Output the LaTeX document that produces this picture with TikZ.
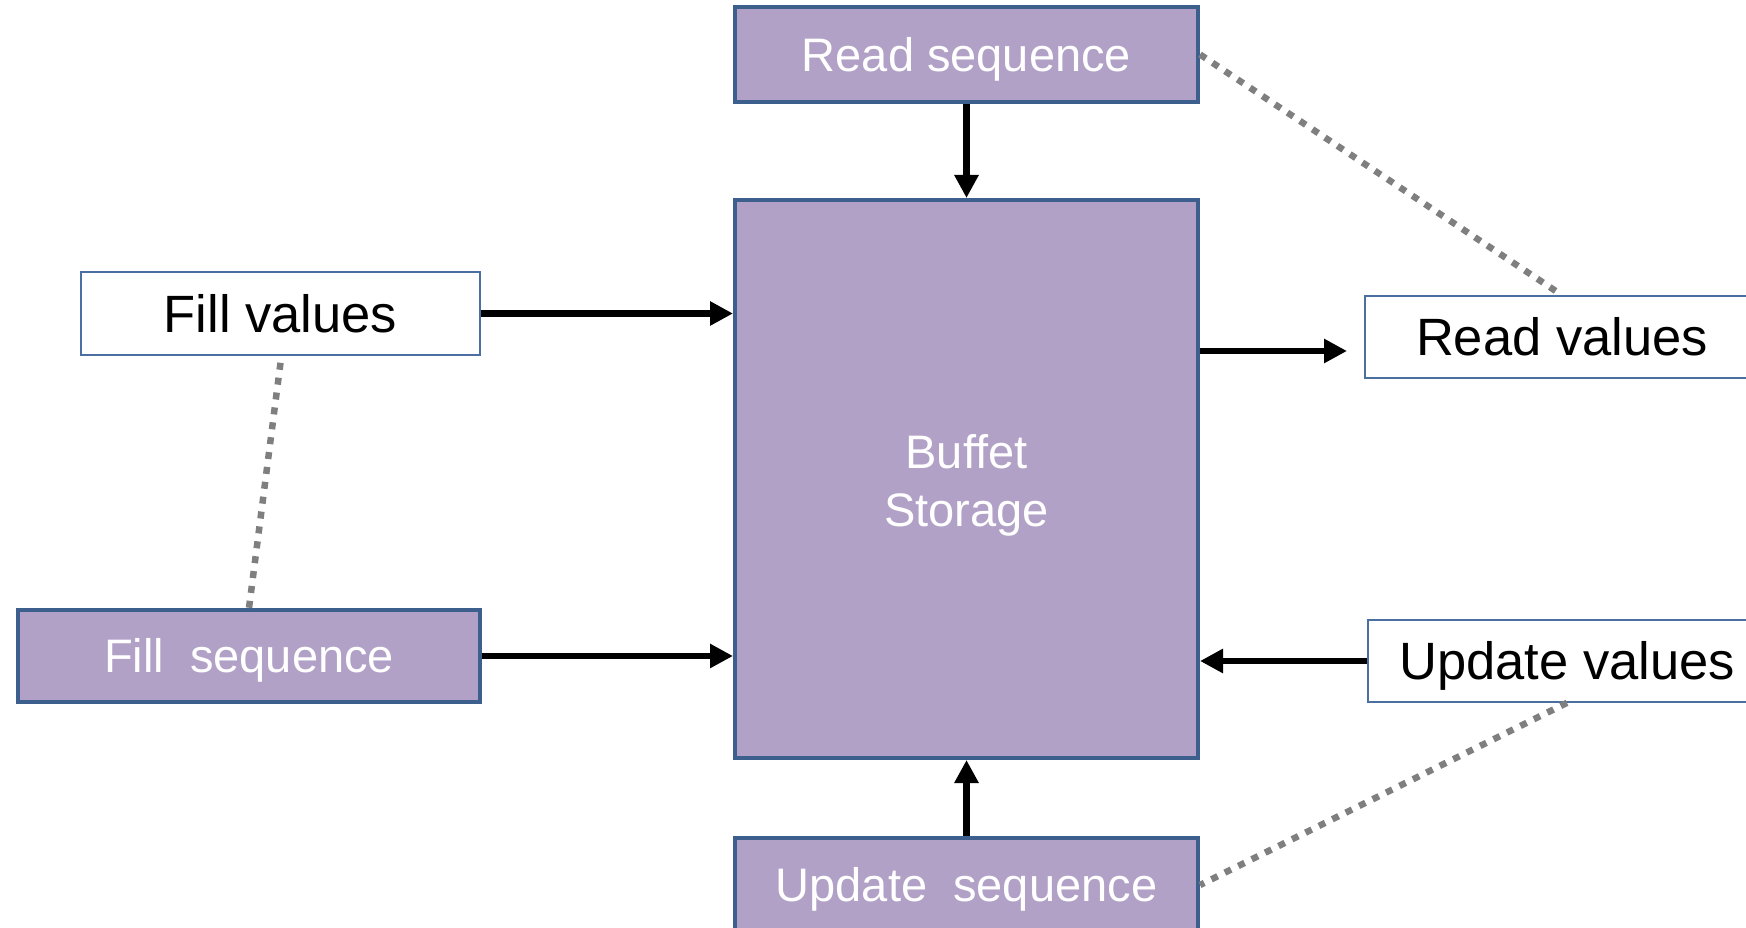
\documentclass[tikz,border=0pt]{standalone}
\usepackage{fontspec}
\setmainfont{Liberation Sans}
\usetikzlibrary{arrows.meta}

\definecolor{seqfill}{HTML}{B2A1C7}
\definecolor{seqedge}{HTML}{3C5F8E}
\definecolor{valedge}{HTML}{4A6FA0}
\definecolor{linkgray}{HTML}{7F7F7F}

\tikzset{
  seqbox/.style={draw=seqedge, line width=4pt, fill=seqfill, text=white,
    inner sep=0pt, text height=42.3pt, text depth=8.65pt,
    font=\fontsize{47}{58}\selectfont},
  valbox/.style={draw=valedge, line width=1.6pt, fill=white, text=black,
    inner sep=0pt, text height=47.25pt, text depth=9.66pt,
    font=\fontsize{52.5}{60}\selectfont},
  flow/.style={draw=black, line width=6.5pt,
    -{Triangle[length=23pt,width=23pt]}},
  link/.style={draw=linkgray, line width=6.5pt, dash pattern=on 7pt off 8pt}
}

\begin{document}
\begin{tikzpicture}[x=1pt,y=1pt]
\useasboundingbox (0,0) rectangle (1746,927);
\clip (0,0) rectangle (1746,927);

% purple sequence blocks and the storage block
\node[seqbox, minimum width=463pt, minimum height=95pt] (rs) at (966.5,872.5) {Read sequence};
\node[draw=seqedge, line width=4pt, fill=seqfill, minimum width=463pt, minimum height=558pt] (st) at (966.5,448) {};
\node[text=white, inner sep=0pt, align=center, font=\fontsize{47}{58}\selectfont] (sttext)
  at ([yshift=-6pt]st.center) {Buffet\\Storage};
\node[seqbox, minimum width=463pt, minimum height=95pt] (us) at (966.5,42) {Update~~sequence};
\node[seqbox, minimum width=462pt, minimum height=92pt] (fs) at (249,271) {Fill~~sequence};

% white value boxes
\node[valbox, minimum width=399pt, minimum height=83pt] (fv) at (280.5,613.5) {Fill values};
\node[valbox, minimum width=394pt, minimum height=82pt] (rv) at (1562,590) {Read values};
\node[valbox, minimum width=398pt, minimum height=82pt] (uv) at (1567,266) {Update values};

% data flow arrows
\coordinate (rvin) at (1347,576);
\draw[flow] (rs.south) -- (st.north);
\draw[flow] (us.north) -- (st.south);
\draw[flow] (fv.east) -- (fv.east -| st.west);
\draw[flow] (fs.east) -- (fs.east -| st.west);
\draw[flow] (rvin -| st.east) -- (rvin);
\draw[flow] (uv.west) -- (uv.west -| st.east);

% dotted associations between sequences and values
\draw[link] (rs.east) -- (rv.north);
\draw[link] ([yshift=-7pt]fv.south) -- (fs.north);
\draw[link] (uv.south) -- (us.east);
\end{tikzpicture}
\end{document}
